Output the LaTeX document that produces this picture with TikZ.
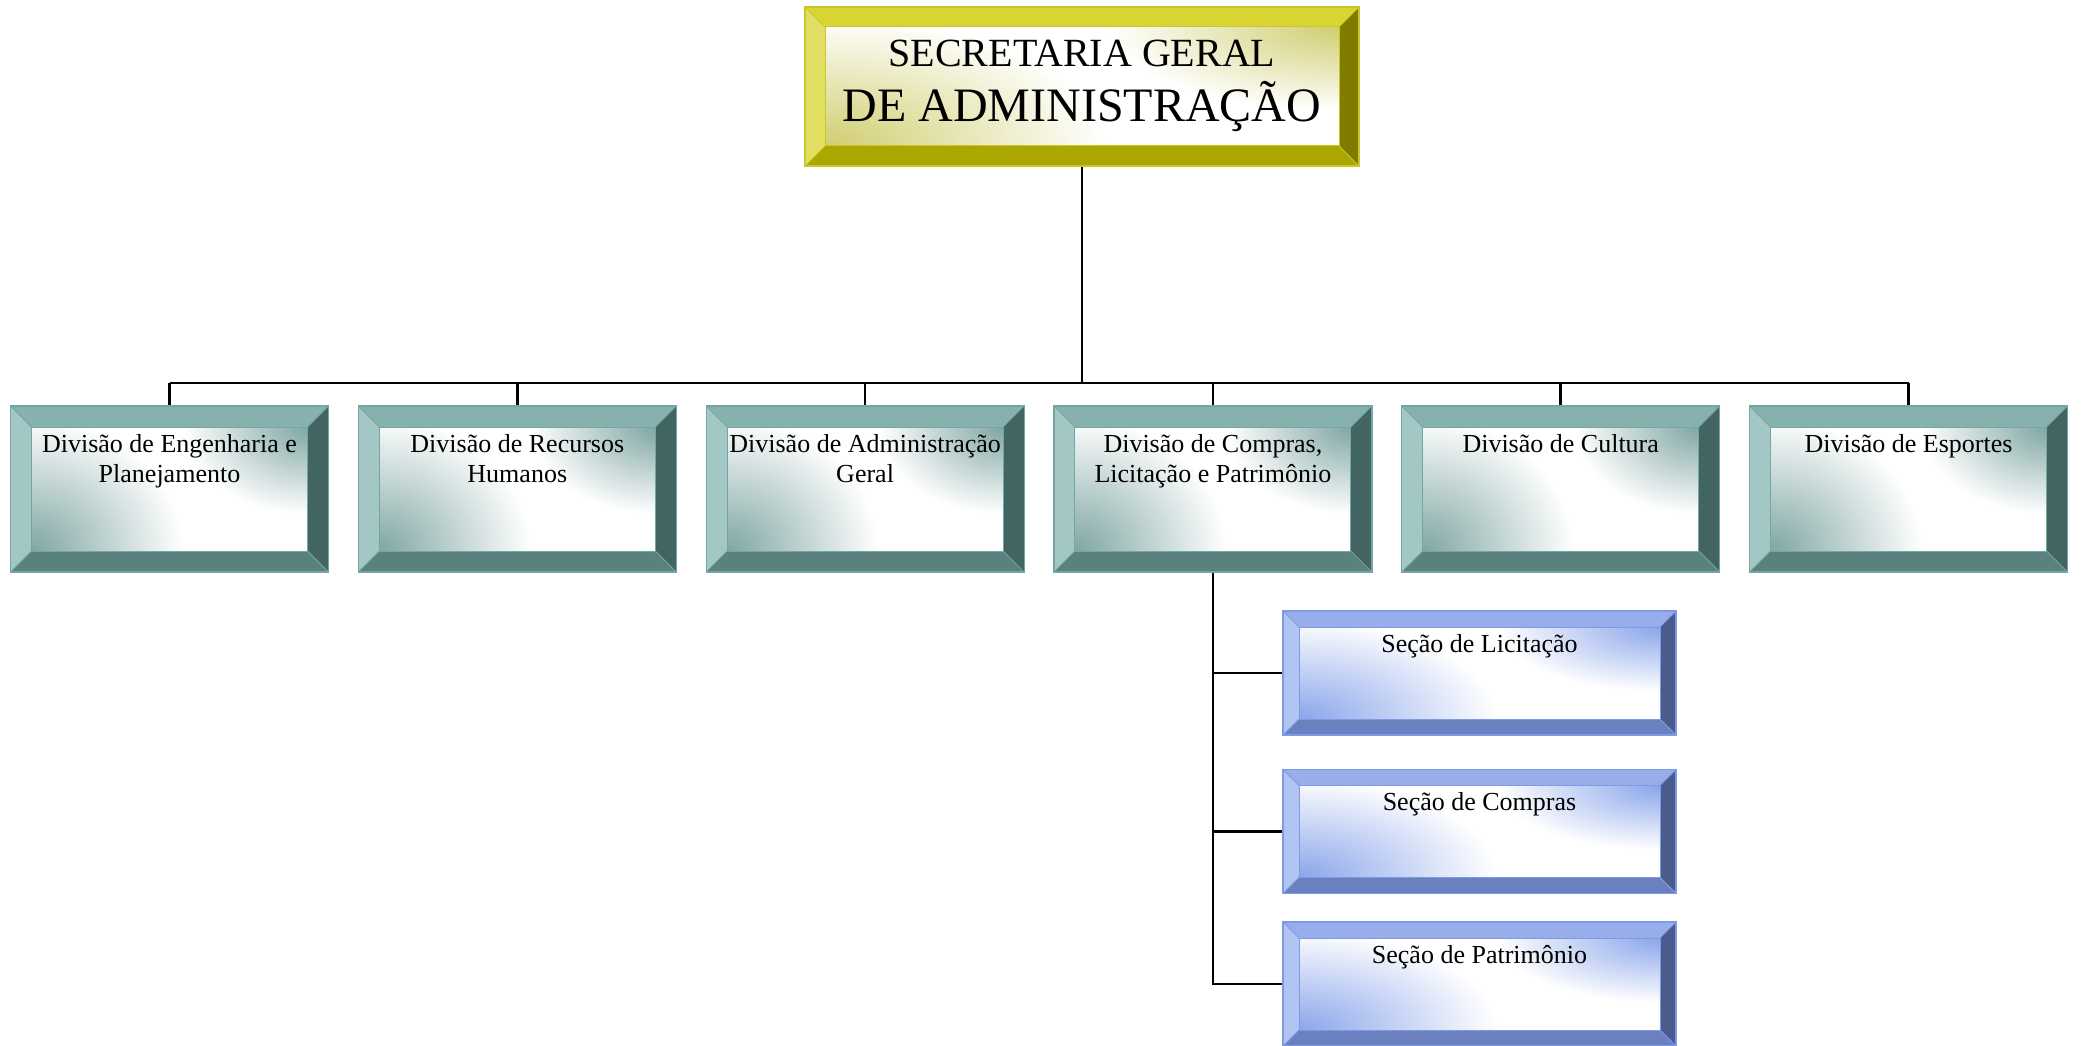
\documentclass[tikz,border=0pt]{standalone}
\usepackage{fontspec}
\setmainfont{Liberation Serif}
\usetikzlibrary{calc}
% teal division boxes
\definecolor{tealtop}{HTML}{86B1AE}
\definecolor{tealleft}{HTML}{A3C7C4}
\definecolor{tealright}{HTML}{426462}
\definecolor{tealbot}{HTML}{5A817E}
\definecolor{tealedge}{HTML}{74A6A3}
\definecolor{tealin}{HTML}{7FA6A3}
% yellow top box
\definecolor{yeltop}{HTML}{D8D533}
\definecolor{yelleft}{HTML}{E1DF62}
\definecolor{yelright}{HTML}{7F7C00}
\definecolor{yelbot}{HTML}{A9A700}
\definecolor{yeledge}{HTML}{C9C72A}
\definecolor{yelin}{HTML}{D0CE70}
% blue section boxes
\definecolor{blutop}{HTML}{97AEEA}
\definecolor{bluleft}{HTML}{B2C4F2}
\definecolor{bluright}{HTML}{4B5B8B}
\definecolor{blubot}{HTML}{6A80BF}
\definecolor{bluedge}{HTML}{7E9AE6}
\definecolor{bluin}{HTML}{8AA5EA}
\newcommand\bevelbox[3]{%
  \coordinate (#1-inw) at ([shift={(#2pt,-#2pt)}]#1.north west);
  \coordinate (#1-ine) at ([shift={(-#2pt,-#2pt)}]#1.north east);
  \coordinate (#1-ise) at ([shift={(-#2pt,#2pt)}]#1.south east);
  \coordinate (#1-isw) at ([shift={(#2pt,#2pt)}]#1.south west);
  \fill[#3left] (#1.north west) -- (#1-inw) -- (#1-isw) -- (#1.south west) -- cycle;
  \fill[#3top] (#1.north west) -- (#1.north east) -- (#1-ine) -- (#1-inw) -- cycle;
  \fill[#3right] (#1.north east) -- (#1.south east) -- (#1-ise) -- (#1-ine) -- cycle;
  \fill[#3bot] (#1.south west) -- (#1.south east) -- (#1-ise) -- (#1-isw) -- cycle;
  \begin{scope}
    \clip (#1-isw) rectangle (#1-ine);
    \fill[white] (#1-isw) rectangle (#1-ine);
    \shade[inner color=#3in, outer color=white] let \p1=($(#1-ine)-(#1-isw)$) in
      (#1-isw) ellipse ({0.55*\x1} and {1.08*\y1});
    \shade[inner color=#3in, outer color=white] let \p1=($(#1-ine)-(#1-isw)$) in
      (#1-ine) ellipse ({0.45*\x1} and {0.7*\y1});
  \end{scope}
  \draw[#3edge, line width=1.2pt] (#1.north west) rectangle (#1.south east);
  \draw[#3edge, line width=1pt] (#1-inw) rectangle (#1-ise);
  \draw[#3edge, line width=0.8pt] (#1.north west) -- (#1-inw) (#1.north east) -- (#1-ine)
     (#1.south east) -- (#1-ise) (#1.south west) -- (#1-isw);
}
\tikzset{
  boxshape/.style={rectangle, inner sep=0pt, outer sep=0pt},
  topbox/.style={boxshape, minimum width=554pt, minimum height=159pt},
  divbox/.style={boxshape, minimum width=318pt, minimum height=166pt},
  secbox/.style={boxshape, minimum width=393pt, minimum height=124pt},
  toptext/.style={anchor=north, inner sep=0pt, align=center, font=\fontsize{40}{55}\selectfont},
  boxtext/.style={anchor=north, inner sep=0pt, align=center, font=\fontsize{26}{30}\selectfont},
  conn/.style={line width=2.6pt, black},
}
\begin{document}
\begin{tikzpicture}[x=1pt, y=-1pt]
\useasboundingbox (0,0) rectangle (2083,1046);
% box placeholders
\node[topbox] (sg) at (1082,86.5) {};
\node[divbox] (d1) at (169.5,489) {};
\node[divbox] (d2) at (517.3,489) {};
\node[divbox] (d3) at (865.1,489) {};
\node[divbox] (d4) at (1212.9,489) {};
\node[divbox] (d5) at (1560.7,489) {};
\node[divbox] (d6) at (1908.5,489) {};
\node[secbox] (s1) at (1479.5,673) {};
\node[secbox] (s2) at (1479.5,831.5) {};
\node[secbox] (s3) at (1479.5,984) {};
% connectors
\coordinate (bus) at (0,383);
\draw[conn] (sg.south) -- (sg.south |- bus);
\draw[conn] (d1.north |- bus) -- (d6.north |- bus);
\foreach \i in {1,...,6}{\draw[conn] (d\i.north |- bus) -- (d\i.north);}
\draw[conn] (d4.south) -- (d4.south |- s3.west) -- (s3.west);
\draw[conn] (d4.south |- s1.west) -- (s1.west);
\draw[conn] (d4.south |- s2.west) -- (s2.west);
% boxes
\bevelbox{sg}{20}{yel}
\foreach \i in {1,...,6}{\bevelbox{d\i}{21}{teal}}
\bevelbox{s1}{16}{blu}
\bevelbox{s2}{16}{blu}
\bevelbox{s3}{16}{blu}
% texts
\node[toptext] (sgt) at ([yshift=-32.5pt]sg.north) {SECRETARIA GERAL\\{\fontsize{48}{55}\selectfont DE ADMINISTRAÇÃO}};
\node[boxtext] (d1t) at ([yshift=-28pt]d1.north) {Divisão de Engenharia e\\Planejamento};
\node[boxtext] (d2t) at ([yshift=-28pt]d2.north) {Divisão de Recursos\\Humanos};
\node[boxtext] (d3t) at ([yshift=-28pt]d3.north) {Divisão de Administração\\Geral};
\node[boxtext] (d4t) at ([yshift=-28pt]d4.north) {Divisão de Compras,\\Licitação e Patrimônio};
\node[boxtext] (d5t) at ([yshift=-28pt]d5.north) {Divisão de Cultura};
\node[boxtext] (d6t) at ([yshift=-28pt]d6.north) {Divisão de Esportes};
\node[boxtext] (s1t) at ([yshift=-23pt]s1.north) {Seção de Licitação};
\node[boxtext] (s2t) at ([yshift=-23pt]s2.north) {Seção de Compras};
\node[boxtext] (s3t) at ([yshift=-23pt]s3.north) {Seção de Patrimônio};
\end{tikzpicture}
\end{document}
